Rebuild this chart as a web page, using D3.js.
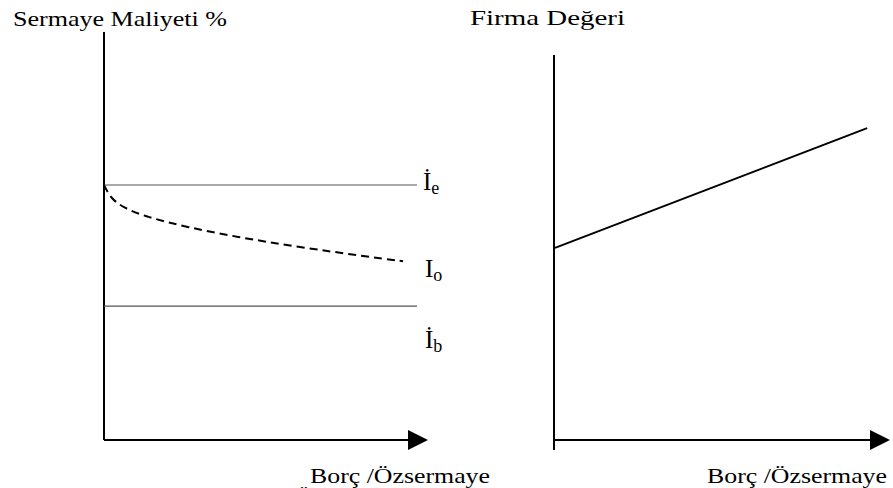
<!DOCTYPE html>
<html>
<head>
<meta charset="utf-8">
<script src="https://cdn.jsdelivr.net/npm/d3@7"></script>
<style>
  body { margin: 0; background: #fff; }
  text { font-family: "Liberation Serif", "DejaVu Serif", serif; fill: #000; }
</style>
</head>
<body>
<svg width="893" height="488"></svg>
<script>
// left panel: cost of capital vs debt/equity
var costTitle = 'Sermaye Maliyeti %';
var valueTitle = 'Firma Değeri';
var xTitle = 'Borç /Özsermaye';

var flatLines = [
  {name: 'İ', sub: 'e', y: 62.5},
  {name: 'İ', sub: 'b', y: 32.8}
];
var flatEnd = 96.6;

// dashed curve (overall cost)
var curveX = [0, 2, 6, 13, 26, 40, 60, 80, 92.3];
var curveY = [62.5, 59.3, 56.9, 54.7, 52.1, 49.9, 47.3, 45.1, 43.8];
var curveLabel = {name: 'I', sub: 'o'};

// right panel: firm value
var valueX = [0.3, 93.2];
var valueY = [49.9, 81.0];

var svg = d3.select('svg');

var drawArrow = (g, x, y) => {
  g.append('path')
    .attr('d', `M${x - 20},${y - 10}L${x},${y}L${x - 20},${y + 10}Z`)
    .attr('fill', '#000');
};

var label = (g, x, y, d) => {
  var t = g.append('text').attr('x', x).attr('y', y).style('font-size', '25px');
  t.append('tspan').text(d.name);
  t.append('tspan').attr('dy', 4).style('font-size', '18px').text(d.sub);
};

// ---------- left chart
var xL = d3.scaleLinear().domain([0, 100]).range([104, 428]);
var yL = d3.scaleLinear().domain([0, 100]).range([440, 32]);
var gL = svg.append('g');

gL.append('line')
  .attr('x1', xL(0)).attr('x2', xL(0))
  .attr('y1', yL(100)).attr('y2', yL(0))
  .attr('stroke', '#000').attr('stroke-width', 2);
gL.append('line')
  .attr('x1', xL(0)).attr('x2', xL(100) - 18)
  .attr('y1', yL(0)).attr('y2', yL(0))
  .attr('stroke', '#000').attr('stroke-width', 2);
drawArrow(gL, xL(100), yL(0));

gL.selectAll('.flat').data(flatLines)
  .enter().append('line')
  .attr('class', 'flat')
  .attr('x1', xL(0)).attr('x2', xL(flatEnd))
  .attr('y1', d => yL(d.y)).attr('y2', d => yL(d.y))
  .attr('stroke', '#555').attr('stroke-width', 1.2);

label(gL, 423, 190, flatLines[0]);
label(gL, 425, 277, curveLabel);
label(gL, 425, 348, flatLines[1]);

var pts = curveX.map((x, i) => [x, curveY[i]]);
var line = d3.line()
  .x(d => xL(d[0]))
  .y(d => yL(d[1]))
  .curve(d3.curveBasis);

gL.append('path')
  .attr('d', line(pts))
  .attr('fill', 'none')
  .attr('stroke', '#000')
  .attr('stroke-width', 2)
  .attr('stroke-dasharray', '8,5');

svg.append('text').attr('x', 13).attr('y', 26)
  .style('font-size', '22px')
  .attr('textLength', 214).attr('lengthAdjust', 'spacingAndGlyphs')
  .text(costTitle);
svg.append('text').attr('x', 310).attr('y', 483)
  .style('font-size', '22px')
  .attr('textLength', 180).attr('lengthAdjust', 'spacingAndGlyphs')
  .text(xTitle);
// clipped leftover line under the left axis title
svg.append('text').attr('x', 296).attr('y', 504)
  .style('font-size', '22px')
  .text('Ö');

// ---------- right chart
var xR = d3.scaleLinear().domain([0, 100]).range([554, 890]);
var yR = d3.scaleLinear().domain([0, 100]).range([440, 55]);
var gR = svg.append('g');

gR.append('line')
  .attr('x1', xR(0)).attr('x2', xR(0))
  .attr('y1', yR(100)).attr('y2', yR(0) + 10)
  .attr('stroke', '#000').attr('stroke-width', 2);
gR.append('line')
  .attr('x1', xR(0)).attr('x2', xR(100) - 18)
  .attr('y1', yR(0)).attr('y2', yR(0))
  .attr('stroke', '#000').attr('stroke-width', 2);
drawArrow(gR, xR(100), yR(0));

gR.append('path')
  .attr('d', d3.line().x(d => xR(d[0])).y(d => yR(d[1]))(valueX.map((x, i) => [x, valueY[i]])))
  .attr('fill', 'none')
  .attr('stroke', '#000')
  .attr('stroke-width', 2);

svg.append('text').attr('x', 470).attr('y', 25)
  .style('font-size', '22px')
  .attr('textLength', 155).attr('lengthAdjust', 'spacingAndGlyphs')
  .text(valueTitle);
svg.append('text').attr('x', 707).attr('y', 483)
  .style('font-size', '22px')
  .attr('textLength', 180).attr('lengthAdjust', 'spacingAndGlyphs')
  .text(xTitle);
</script>
</body>
</html>
